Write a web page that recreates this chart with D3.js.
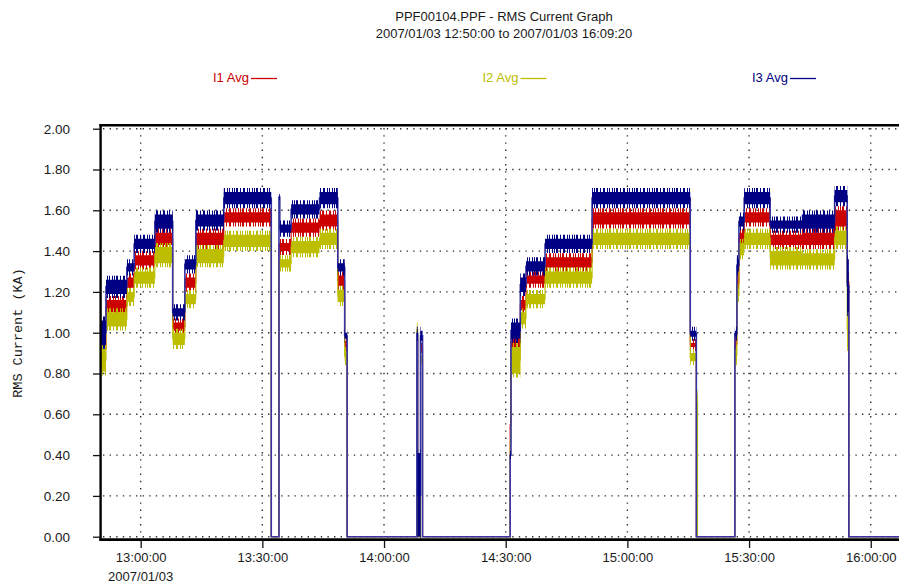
<!DOCTYPE html>
<html>
<head>
<meta charset="utf-8">
<script src="https://cdn.jsdelivr.net/npm/d3@7"></script>
<style>
  body { margin: 0; background: #fff; }
  svg { display: block; font-family: "Liberation Sans", Arial, sans-serif; }
</style>
</head>
<body>
<svg width="899" height="588"></svg>
<script>
// segment start times (clock), each phase steps together
var segStart = [
  "12:50:00", "12:51:27", "12:56:36", "12:58:24", "13:03:30", "13:07:54", "13:10:54", "13:13:36",
  "13:20:30", "13:32:12", "13:34:06", "13:34:18", "13:37:06", "13:44:06", "13:48:36", "13:50:18",
  "13:50:54", "14:08:06", "14:08:18", "14:09:00", "14:09:30", "14:31:06", "14:31:18", "14:33:36",
  "14:35:00", "14:39:42", "14:51:18", "15:15:30", "15:17:00", "15:17:18", "15:26:30", "15:27:00",
  "15:27:30", "15:28:48", "15:35:12", "15:43:00", "15:51:06", "15:54:12", "15:54:36"
];
var endTime = "16:09:20";

// kA, low / high edge of the noisy band in each segment
var i1Lo = [0.89, 1.10, 1.22, 1.33, 1.43, 1.01, 1.22, 1.43, 1.54, 0, 1.42, 1.40, 1.49, 1.52, 1.23, 0.92,
  0, 0.96, 0, 0.90, 0, 0.50, 0.92, 1.11, 1.24, 1.32, 1.53, 0.93, 0, 0, 0.93, 1.20,
  1.44, 1.54, 1.43, 1.43, 1.52, 1.20, 0];
var i1Hi = [0.95, 1.16, 1.27, 1.38, 1.49, 1.05, 1.27, 1.49, 1.59, 0, 1.44, 1.44, 1.54, 1.58, 1.28, 0.96,
  0, 0.98, 0, 0.95, 0, 0.60, 0.98, 1.16, 1.28, 1.37, 1.59, 0.95, 0, 0, 0.96, 1.28,
  1.49, 1.59, 1.48, 1.49, 1.60, 1.30, 0];
var i2Lo = [0.81, 1.03, 1.15, 1.24, 1.34, 0.94, 1.14, 1.34, 1.42, 0, 1.33, 1.32, 1.39, 1.43, 1.15, 0.86,
  0, 1.00, 0, 0.85, 0, 0.42, 0.80, 1.04, 1.14, 1.24, 1.43, 0.86, 0.62, 0, 0.86, 1.15,
  1.38, 1.43, 1.33, 1.33, 1.43, 0.93, 0];
var i2Hi = [0.92, 1.10, 1.20, 1.30, 1.42, 1.00, 1.19, 1.41, 1.48, 0, 1.35, 1.36, 1.45, 1.49, 1.21, 0.91,
  0, 1.03, 0, 0.89, 0, 0.50, 0.93, 1.10, 1.19, 1.30, 1.49, 0.90, 0.70, 0, 0.92, 1.22,
  1.44, 1.49, 1.40, 1.39, 1.50, 1.10, 0];
var i3Lo = [0.94, 1.19, 1.30, 1.41, 1.51, 1.08, 1.31, 1.52, 1.63, 0, 1.65, 1.49, 1.58, 1.63, 1.30, 0.97,
  0, 0.98, 0, 0.96, 0, 0.38, 0.97, 1.20, 1.30, 1.41, 1.63, 0.98, 0, 0, 0.98, 1.30,
  1.52, 1.63, 1.51, 1.51, 1.64, 1.10, 0];
var i3Hi = [1.06, 1.26, 1.34, 1.46, 1.58, 1.12, 1.36, 1.58, 1.69, 0, 1.68, 1.53, 1.63, 1.69, 1.34, 1.00,
  0, 1.01, 0.41, 1.01, 0, 0.42, 1.05, 1.27, 1.35, 1.46, 1.69, 1.01, 0, 0, 1.01, 1.36,
  1.57, 1.69, 1.55, 1.58, 1.70, 1.36, 0];

var seriesNames = ["I1 Avg", "I2 Avg", "I3 Avg"];
var seriesColors = ["#cc0000", "#bebe00", "#000084"];
var yTicks = [0, 0.2, 0.4, 0.6, 0.8, 1.0, 1.2, 1.4, 1.6, 1.8, 2.0];
var titleLines = ["PPF00104.PPF - RMS Current Graph", "2007/01/03 12:50:00 to 2007/01/03 16:09:20"];
var yTitle = "RMS Current (KA)";
var dateLabel = "2007/01/03";

var svg = d3.select("svg");
var width = +svg.attr("width");
var parse = d3.timeParse("%H:%M:%S");

var x = d3.scaleTime()
  .domain([parse(segStart[0]), parse(endTime)])
  .range([100.1, 908.6]);
var y = d3.scaleLinear()
  .domain([0, 2])
  .range([536.7, 128.7]);

function build(lo, hi) {
  var pts = segStart.map(function(s, i) {
    return { t: parse(s), lo: lo[i], hi: hi[i] };
  });
  var last = pts[pts.length - 1];
  pts.push({ t: parse(endTime), lo: last.lo, hi: last.hi });
  return pts;
}
var series = [
  { name: seriesNames[0], color: seriesColors[0], pts: build(i1Lo, i1Hi) },
  { name: seriesNames[1], color: seriesColors[1], pts: build(i2Lo, i2Hi) },
  { name: seriesNames[2], color: seriesColors[2], pts: build(i3Lo, i3Hi) }
];

// ragged fringe: irregular vertical hairlines, clipped to a slightly wider band
var defs = svg.append("defs");
var stripes = [0, 2, 3, 6, 9, 10, 13, 15, 18];
series.forEach(function(s, i) {
  var p = defs.append("pattern")
    .attr("id", "fringe" + i)
    .attr("patternUnits", "userSpaceOnUse")
    .attr("width", 20).attr("height", 20)
    .attr("x", i * 7);
  p.selectAll("rect")
    .data(stripes)
    .enter().append("rect")
      .attr("x", function(d) { return d; })
      .attr("y", 0)
      .attr("width", 1)
      .attr("height", 20)
      .attr("fill", s.color);
});

// titles
svg.selectAll("text.title")
  .data(titleLines)
  .enter().append("text")
    .attr("class", "title")
    .attr("x", 504)
    .attr("y", function(d, i) { return 21 + i * 16.5; })
    .attr("text-anchor", "middle")
    .attr("font-size", 13)
    .attr("fill", "#1a1a1a")
    .text(function(d) { return d; });

// legend
var lg = svg.selectAll("g.legend")
  .data(series)
  .enter().append("g")
    .attr("class", "legend")
    .attr("transform", function(d, i) { return "translate(" + (213 + i * 269.5) + ",77)"; });
lg.append("text")
  .attr("dy", "0.35em")
  .attr("font-size", 13)
  .attr("fill", function(d) { return d.color; })
  .text(function(d) { return d.name; });
lg.append("line")
  .attr("x1", 38).attr("x2", 64)
  .attr("y1", 1.5).attr("y2", 1.5)
  .attr("stroke", function(d) { return d.color; })
  .attr("stroke-width", 1.3);

// grid
var xTicks = x.ticks(d3.timeMinute.every(30));
svg.append("g").selectAll("line")
  .data(yTicks)
  .enter().append("line")
    .attr("x1", 103).attr("x2", width)
    .attr("y1", function(d) { return y(d); })
    .attr("y2", function(d) { return y(d); })
    .attr("stroke", "#333")
    .attr("stroke-width", 1.4)
    .attr("stroke-dasharray", "1.4,5.2");
svg.append("g").selectAll("line")
  .data(xTicks)
  .enter().append("line")
    .attr("x1", function(d) { return x(d); })
    .attr("x2", function(d) { return x(d); })
    .attr("y1", 128).attr("y2", 538)
    .attr("stroke", "#333")
    .attr("stroke-width", 1.4)
    .attr("stroke-dasharray", "1.4,5.8");

// data
var band = d3.area()
  .curve(d3.curveStepAfter)
  .x(function(d) { return x(d.t); })
  .y0(function(d) { return y(d.lo); })
  .y1(function(d) { return y(d.hi); });
var fringe = d3.area()
  .curve(d3.curveStepAfter)
  .x(function(d) { return x(d.t); })
  .y0(function(d) { return d.hi > 0 ? y(d.lo) + 4 : y(0); })
  .y1(function(d) { return d.hi > 0 ? y(d.hi) - 4 : y(0); });
var mid = d3.line()
  .curve(d3.curveStepAfter)
  .x(function(d) { return x(d.t); })
  .y(function(d) { return y((d.lo + d.hi) / 2); });

var sg = svg.append("g").selectAll("g")
  .data(series)
  .enter().append("g");
sg.append("path")
  .attr("d", function(d) { return mid(d.pts); })
  .attr("fill", "none")
  .attr("stroke", function(d, i) { return i === 2 ? "#3434a4" : d.color; })
  .attr("stroke-width", function(d, i) { return i === 2 ? 1.6 : 1.1; });
sg.append("path")
  .attr("d", function(d) { return fringe(d.pts); })
  .attr("fill", function(d, i) { return "url(#fringe" + i + ")"; });
sg.append("path")
  .attr("d", function(d) { return band(d.pts); })
  .attr("fill", function(d) { return d.color; });

// frame
svg.append("line")
  .attr("x1", 99.4).attr("x2", width)
  .attr("y1", 125.3).attr("y2", 125.3)
  .attr("stroke", "#000").attr("stroke-width", 2.4);
svg.append("line")
  .attr("x1", 100.6).attr("x2", 100.6)
  .attr("y1", 124.1).attr("y2", 540.8)
  .attr("stroke", "#000").attr("stroke-width", 2.4);
svg.append("line")
  .attr("x1", 99.4).attr("x2", width)
  .attr("y1", 539.6).attr("y2", 539.6)
  .attr("stroke", "#000").attr("stroke-width", 2.6);

// y axis
var gy = svg.append("g")
  .attr("transform", "translate(100,0)")
  .call(d3.axisLeft(y).tickValues(yTicks).tickSize(7).tickPadding(23)
    .tickFormat(d3.format(".2f")));
gy.select(".domain").remove();
gy.selectAll("line").attr("stroke", "#111").attr("stroke-width", 1.3);
gy.selectAll("text")
  .attr("font-family", "\"Liberation Sans\", Arial, sans-serif")
  .attr("font-size", 13.5)
  .attr("fill", "#1a1a1a");

svg.append("text")
  .attr("transform", "translate(22,333) rotate(-90)")
  .attr("text-anchor", "middle")
  .attr("font-family", "\"Liberation Mono\", \"Courier New\", monospace")
  .attr("font-size", 13.5)
  .attr("fill", "#1a1a1a")
  .text(yTitle);

// x axis
var gx = svg.append("g")
  .attr("transform", "translate(0,540)")
  .call(d3.axisBottom(x).tickValues(xTicks).tickSize(8).tickPadding(5)
    .tickFormat(d3.timeFormat("%H:%M:%S")));
gx.select(".domain").remove();
gx.selectAll("line").attr("stroke", "#111").attr("stroke-width", 1.3);
gx.selectAll("text")
  .attr("font-family", "\"Liberation Sans\", Arial, sans-serif")
  .attr("font-size", 13)
  .attr("fill", "#1a1a1a");

svg.append("text")
  .attr("x", x(xTicks[0]))
  .attr("y", 581)
  .attr("text-anchor", "middle")
  .attr("font-size", 13)
  .attr("fill", "#1a1a1a")
  .text(dateLabel);
</script>
</body>
</html>
